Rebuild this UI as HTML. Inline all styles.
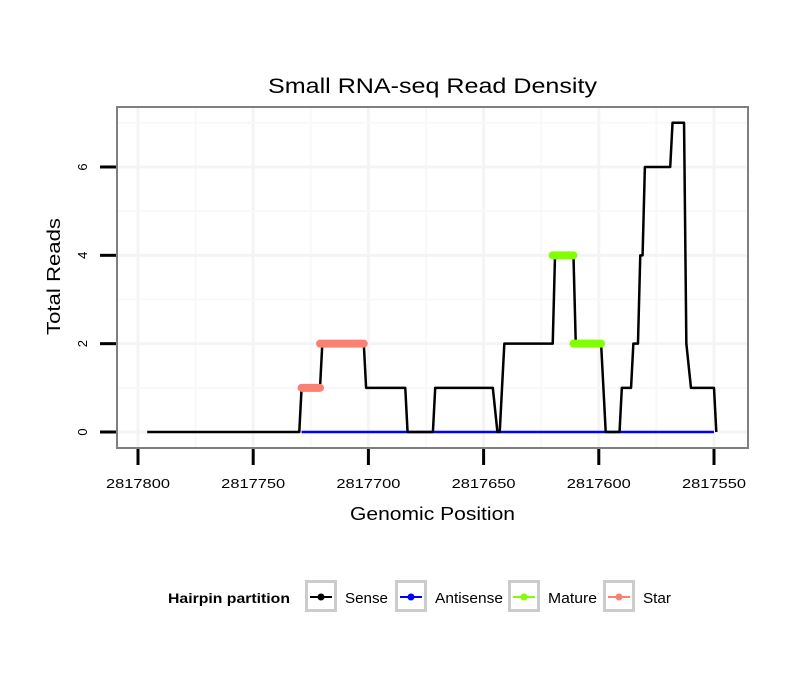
<!DOCTYPE html>
<html><head><meta charset="utf-8"><style>
body{margin:0;background:#fff;}
svg{display:block;font-family:"Liberation Sans",sans-serif;}
</style></head><body>
<svg id="chart" width="810" height="690">
<rect width="810" height="690" fill="#fff"/>
<text x="268" y="93" font-size="21" textLength="329" lengthAdjust="spacingAndGlyphs">Small RNA-seq Read Density</text>
<g id="grid"></g>
<g id="series"></g>
<rect x="117" y="107" width="631" height="341" fill="none" stroke="#7f7f7f" stroke-width="2"/>
<g id="axes"></g>
<text x="350" y="520" font-size="18" textLength="165" lengthAdjust="spacingAndGlyphs">Genomic Position</text>
<text transform="translate(60,335) rotate(-90)" font-size="18" textLength="117" lengthAdjust="spacingAndGlyphs">Total Reads</text>
<g>
<text x="168" y="603" font-size="14" font-weight="bold" textLength="122" lengthAdjust="spacingAndGlyphs">Hairpin partition</text>
<g id="legend"></g>
</g>
</svg>
<script>
const senseX=[2817796,2817730,2817729,2817721,2817720,2817702,2817701,2817684,2817683,2817672,2817671,2817646,2817644,2817643,2817641,2817620,2817619,2817611,2817610,2817599,2817597,2817591,2817590,2817586,2817585,2817583,2817582,2817581,2817580,2817569,2817568,2817563,2817562,2817560,2817550,2817549];
const senseY=[0,0,1,1,2,2,1,1,0,0,1,1,0,0,2,2,4,4,2,2,0,0,1,1,2,2,4,4,6,6,7,7,2,1,1,0];
const antisenseX=[2817729,2817550];
const antisenseY=[0,0];
const starSegments=[[2817729,2817721,1],[2817721,2817702,2]];
const matureSegments=[[2817620,2817611,4],[2817611,2817599,2]];
const xTicks=[2817800,2817750,2817700,2817650,2817600,2817550];
const yTicks=[0,2,4,6];
const legendLabels=["Sense","Antisense","Mature","Star"];
const legendColors=["#000000","#0000ff","#7fff00","#fa8072"];

const NS="http://www.w3.org/2000/svg";
function X(v){return 138+(2817800-v)*2.304;}
function Y(v){return 432-v*44.17;}
function mk(tag,attrs,parent){const e=document.createElementNS(NS,tag);for(const k in attrs)e.setAttribute(k,attrs[k]);parent.appendChild(e);return e;}
const grid=document.getElementById('grid'),series=document.getElementById('series'),axes=document.getElementById('axes'),legend=document.getElementById('legend');

for(let i=0;i<xTicks.length;i++){
  const x=X(xTicks[i]);
  const g=mk('line',{x1:x,x2:x,y1:108,y2:447,stroke:'#f4f4f4','stroke-width':3},grid);
  
  
  if(i<xTicks.length-1){const xm=X((xTicks[i]+xTicks[i+1])/2);
    const m=mk('line',{x1:xm,x2:xm,y1:108,y2:447,stroke:'#f8f8f8','stroke-width':2},grid);
    
    }
  const t=mk('line',{x1:x,x2:x,y1:449,y2:465,stroke:'#000','stroke-width':3},axes);
  
  
  const l=mk('text',{x:x-32,y:488,'font-size':13,textLength:64,lengthAdjust:'spacingAndGlyphs'},axes);
  l.textContent=xTicks[i];
  
  
}
for(let i=0;i<yTicks.length;i++){
  const y=Y(yTicks[i]);
  const g=mk('line',{x1:118,x2:747,y1:y,y2:y,stroke:'#f4f4f4','stroke-width':3},grid);
  
  
  const ym=Y(yTicks[i]+1);
  const m=mk('line',{x1:118,x2:747,y1:ym,y2:ym,stroke:'#f8f8f8','stroke-width':2},grid);
  
  
  const t=mk('line',{x1:100,x2:116,y1:y,y2:y,stroke:'#000','stroke-width':3},axes);
  
  
  const l=mk('text',{transform:`translate(87,${y}) rotate(-90)`,'font-size':13,'text-anchor':'middle'},axes);
  l.textContent=yTicks[i];
  
  
}
function pts(xs,ys){return xs.map((v,i)=>X(v)+','+Y(ys[i])).join(' ');}
const a=mk('polyline',{points:pts(antisenseX,antisenseY),fill:'none',stroke:'#0000ff','stroke-width':2.5},series);


const s=mk('polyline',{points:pts(senseX,senseY),fill:'none',stroke:'#000','stroke-width':2.5,'stroke-linejoin':'round'},series);


starSegments.forEach(seg=>{
  const e=mk('line',{x1:X(seg[0]),x2:X(seg[1]),y1:Y(seg[2]),y2:Y(seg[2]),stroke:'#fa8072','stroke-width':8,'stroke-linecap':'round'},series);
  
  
});
matureSegments.forEach(seg=>{
  const e=mk('line',{x1:X(seg[0]),x2:X(seg[1]),y1:Y(seg[2]),y2:Y(seg[2]),stroke:'#7fff00','stroke-width':8,'stroke-linecap':'round'},series);
  
  
});
const boxX=[305,395,508,603];
const labW=[43,68,49,28];
legendLabels.forEach((lab,i)=>{
  const bx=boxX[i];
  const b=mk('rect',{x:bx+1.5,y:581.5,width:29,height:29,fill:'#fff',stroke:'#cccccc','stroke-width':3},legend);
  
  
  mk('line',{x1:bx+5,x2:bx+27,y1:597,y2:597,stroke:legendColors[i],'stroke-width':2},legend);
  mk('circle',{cx:bx+16,cy:597,r:3.5,fill:legendColors[i]},legend);
  const t=mk('text',{x:bx+40,y:603,'font-size':15,textLength:labW[i],lengthAdjust:'spacingAndGlyphs'},legend);
  t.textContent=lab;
  
  
});
</script>
</body></html>
